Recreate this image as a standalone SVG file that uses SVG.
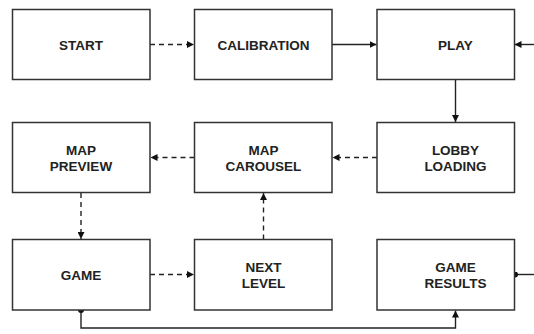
<svg xmlns="http://www.w3.org/2000/svg" width="534" height="334" viewBox="0 0 534 334">
<defs>
<style>
.box{fill:#fff;stroke:#333;stroke-width:1.5}
.lbl{font-family:"Liberation Sans",Arial,sans-serif;font-weight:bold;font-size:13.5px;fill:#222;text-anchor:middle}
.c{fill:none;stroke:#222;stroke-width:1.4}
.d{stroke-dasharray:5 4}
</style>
<marker id="ah" viewBox="0 0 10 10" refX="10" refY="5" markerWidth="7" markerHeight="7" markerUnits="userSpaceOnUse" orient="auto">
<path d="M0,0 L10,5 L0,10 Z" fill="#111"/>
</marker>
<marker id="dot" viewBox="0 0 10 10" refX="5" refY="5" markerWidth="6" markerHeight="6" markerUnits="userSpaceOnUse">
<circle cx="5" cy="5" r="5" fill="#111"/>
</marker>
</defs>
<rect width="534" height="334" fill="#fff"/>
<g id="connectors">
<path class="c d" d="M150,44.5 H194" marker-end="url(#ah)"/>
<path class="c" d="M332,44.5 H376.5" marker-end="url(#ah)"/>
<path class="c" d="M534,44.5 H514.5" marker-end="url(#ah)"/>
<path class="c" d="M455.5,79.5 V122" marker-end="url(#ah)"/>
<path class="c d" d="M377,157.5 H332.5" marker-end="url(#ah)"/>
<path class="c d" d="M194.5,157.5 H150.5" marker-end="url(#ah)"/>
<path class="c d" d="M81,193 V239" marker-end="url(#ah)"/>
<path class="c d" d="M263.5,239.5 V193" marker-end="url(#ah)"/>
<path class="c d" d="M150,274.5 H194" marker-end="url(#ah)"/>
<path class="c" d="M81,310 V328 H455.5 V310.5" marker-start="url(#dot)" marker-end="url(#ah)"/>
<path class="c" d="M515,274.5 H534" marker-start="url(#dot)"/>
</g>
<g id="start"><rect class="box" x="12.5" y="9.5" width="137.5" height="70"/><text class="lbl" x="81" y="49.5">START</text></g>
<g id="calibration"><rect class="box" x="194.5" y="9.5" width="137.5" height="70"/><text class="lbl" x="263.5" y="49.5">CALIBRATION</text></g>
<g id="play"><rect class="box" x="377" y="9.5" width="137.5" height="70"/><text class="lbl" x="455.5" y="49.5">PLAY</text></g>
<g id="map-preview"><rect class="box" x="12.5" y="122.5" width="137.5" height="70"/><text class="lbl" x="81" y="155">MAP</text><text class="lbl" x="81" y="171">PREVIEW</text></g>
<g id="map-carousel"><rect class="box" x="194.5" y="122.5" width="137.5" height="70"/><text class="lbl" x="263.5" y="155">MAP</text><text class="lbl" x="263.5" y="171">CAROUSEL</text></g>
<g id="lobby-loading"><rect class="box" x="377" y="122.5" width="137.5" height="70"/><text class="lbl" x="455.5" y="155">LOBBY</text><text class="lbl" x="455.5" y="171">LOADING</text></g>
<g id="game"><rect class="box" x="12.5" y="239.5" width="137.5" height="70.5"/><text class="lbl" x="81" y="279.5">GAME</text></g>
<g id="next-level"><rect class="box" x="194.5" y="239.5" width="137.5" height="70.5"/><text class="lbl" x="263.5" y="272">NEXT</text><text class="lbl" x="263.5" y="288">LEVEL</text></g>
<g id="game-results"><rect class="box" x="377" y="239.5" width="137.5" height="70.5"/><text class="lbl" x="455.5" y="272">GAME</text><text class="lbl" x="455.5" y="288">RESULTS</text></g>
</svg>
